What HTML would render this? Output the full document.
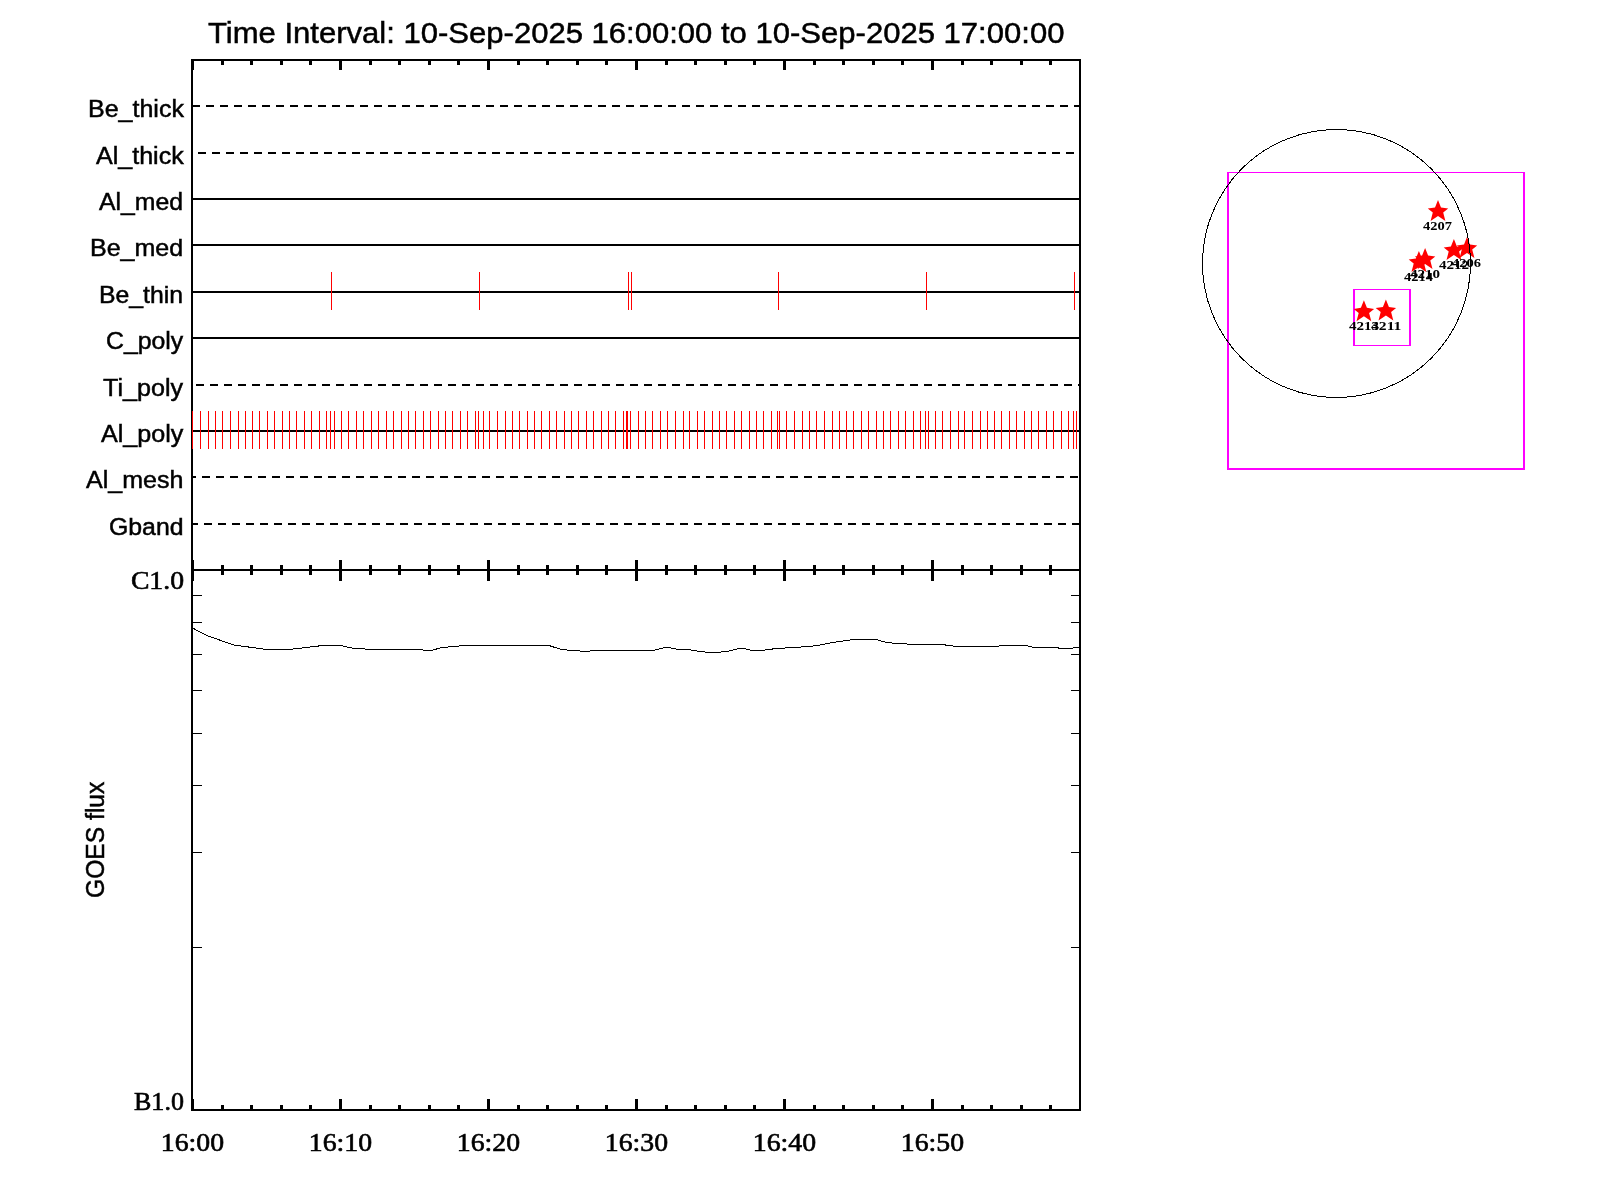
<!DOCTYPE html>
<html><head><meta charset="utf-8"><title>Time Interval: 10-Sep-2025 16:00:00 to 10-Sep-2025 17:00:00</title>
<style>html,body{margin:0;padding:0;background:#fff;width:1600px;height:1200px;overflow:hidden} svg{display:block;will-change:transform}</style>
</head><body>
<svg width="1600" height="1200" viewBox="0 0 1600 1200">
<rect x="0" y="0" width="1600" height="1200" fill="#fff"/>
<rect x="191" y="59" width="890" height="2" fill="#000"/>
<rect x="191" y="569" width="890" height="2" fill="#000"/>
<rect x="191" y="59" width="2" height="512" fill="#000"/>
<rect x="1079" y="59" width="2" height="512" fill="#000"/>
<rect x="191" y="569" width="890" height="2" fill="#000"/>
<rect x="191" y="1109" width="890" height="2" fill="#000"/>
<rect x="191" y="569" width="2" height="542" fill="#000"/>
<rect x="1079" y="569" width="2" height="542" fill="#000"/>
<rect x="191" y="59" width="3" height="11" fill="#000"/>
<rect x="191" y="560" width="3" height="21" fill="#000"/>
<rect x="191" y="1099" width="3" height="11" fill="#000"/>
<rect x="221" y="59" width="3" height="6" fill="#000"/>
<rect x="221" y="565" width="3" height="10" fill="#000"/>
<rect x="221" y="1105" width="3" height="6" fill="#000"/>
<rect x="250" y="59" width="3" height="6" fill="#000"/>
<rect x="250" y="565" width="3" height="10" fill="#000"/>
<rect x="250" y="1105" width="3" height="6" fill="#000"/>
<rect x="280" y="59" width="3" height="6" fill="#000"/>
<rect x="280" y="565" width="3" height="10" fill="#000"/>
<rect x="280" y="1105" width="3" height="6" fill="#000"/>
<rect x="309" y="59" width="3" height="6" fill="#000"/>
<rect x="309" y="565" width="3" height="10" fill="#000"/>
<rect x="309" y="1105" width="3" height="6" fill="#000"/>
<rect x="339" y="59" width="3" height="11" fill="#000"/>
<rect x="339" y="560" width="3" height="21" fill="#000"/>
<rect x="339" y="1099" width="3" height="11" fill="#000"/>
<rect x="369" y="59" width="3" height="6" fill="#000"/>
<rect x="369" y="565" width="3" height="10" fill="#000"/>
<rect x="369" y="1105" width="3" height="6" fill="#000"/>
<rect x="398" y="59" width="3" height="6" fill="#000"/>
<rect x="398" y="565" width="3" height="10" fill="#000"/>
<rect x="398" y="1105" width="3" height="6" fill="#000"/>
<rect x="428" y="59" width="3" height="6" fill="#000"/>
<rect x="428" y="565" width="3" height="10" fill="#000"/>
<rect x="428" y="1105" width="3" height="6" fill="#000"/>
<rect x="457" y="59" width="3" height="6" fill="#000"/>
<rect x="457" y="565" width="3" height="10" fill="#000"/>
<rect x="457" y="1105" width="3" height="6" fill="#000"/>
<rect x="487" y="59" width="3" height="11" fill="#000"/>
<rect x="487" y="560" width="3" height="21" fill="#000"/>
<rect x="487" y="1099" width="3" height="11" fill="#000"/>
<rect x="517" y="59" width="3" height="6" fill="#000"/>
<rect x="517" y="565" width="3" height="10" fill="#000"/>
<rect x="517" y="1105" width="3" height="6" fill="#000"/>
<rect x="546" y="59" width="3" height="6" fill="#000"/>
<rect x="546" y="565" width="3" height="10" fill="#000"/>
<rect x="546" y="1105" width="3" height="6" fill="#000"/>
<rect x="576" y="59" width="3" height="6" fill="#000"/>
<rect x="576" y="565" width="3" height="10" fill="#000"/>
<rect x="576" y="1105" width="3" height="6" fill="#000"/>
<rect x="605" y="59" width="3" height="6" fill="#000"/>
<rect x="605" y="565" width="3" height="10" fill="#000"/>
<rect x="605" y="1105" width="3" height="6" fill="#000"/>
<rect x="635" y="59" width="3" height="11" fill="#000"/>
<rect x="635" y="560" width="3" height="21" fill="#000"/>
<rect x="635" y="1099" width="3" height="11" fill="#000"/>
<rect x="665" y="59" width="3" height="6" fill="#000"/>
<rect x="665" y="565" width="3" height="10" fill="#000"/>
<rect x="665" y="1105" width="3" height="6" fill="#000"/>
<rect x="694" y="59" width="3" height="6" fill="#000"/>
<rect x="694" y="565" width="3" height="10" fill="#000"/>
<rect x="694" y="1105" width="3" height="6" fill="#000"/>
<rect x="724" y="59" width="3" height="6" fill="#000"/>
<rect x="724" y="565" width="3" height="10" fill="#000"/>
<rect x="724" y="1105" width="3" height="6" fill="#000"/>
<rect x="753" y="59" width="3" height="6" fill="#000"/>
<rect x="753" y="565" width="3" height="10" fill="#000"/>
<rect x="753" y="1105" width="3" height="6" fill="#000"/>
<rect x="783" y="59" width="3" height="11" fill="#000"/>
<rect x="783" y="560" width="3" height="21" fill="#000"/>
<rect x="783" y="1099" width="3" height="11" fill="#000"/>
<rect x="813" y="59" width="3" height="6" fill="#000"/>
<rect x="813" y="565" width="3" height="10" fill="#000"/>
<rect x="813" y="1105" width="3" height="6" fill="#000"/>
<rect x="842" y="59" width="3" height="6" fill="#000"/>
<rect x="842" y="565" width="3" height="10" fill="#000"/>
<rect x="842" y="1105" width="3" height="6" fill="#000"/>
<rect x="872" y="59" width="3" height="6" fill="#000"/>
<rect x="872" y="565" width="3" height="10" fill="#000"/>
<rect x="872" y="1105" width="3" height="6" fill="#000"/>
<rect x="901" y="59" width="3" height="6" fill="#000"/>
<rect x="901" y="565" width="3" height="10" fill="#000"/>
<rect x="901" y="1105" width="3" height="6" fill="#000"/>
<rect x="931" y="59" width="3" height="11" fill="#000"/>
<rect x="931" y="560" width="3" height="21" fill="#000"/>
<rect x="931" y="1099" width="3" height="11" fill="#000"/>
<rect x="961" y="59" width="3" height="6" fill="#000"/>
<rect x="961" y="565" width="3" height="10" fill="#000"/>
<rect x="961" y="1105" width="3" height="6" fill="#000"/>
<rect x="990" y="59" width="3" height="6" fill="#000"/>
<rect x="990" y="565" width="3" height="10" fill="#000"/>
<rect x="990" y="1105" width="3" height="6" fill="#000"/>
<rect x="1020" y="59" width="3" height="6" fill="#000"/>
<rect x="1020" y="565" width="3" height="10" fill="#000"/>
<rect x="1020" y="1105" width="3" height="6" fill="#000"/>
<rect x="1049" y="59" width="3" height="6" fill="#000"/>
<rect x="1049" y="565" width="3" height="10" fill="#000"/>
<rect x="1049" y="1105" width="3" height="6" fill="#000"/>
<rect x="193" y="947" width="9" height="1" fill="#000"/>
<rect x="1071" y="947" width="8" height="1" fill="#000"/>
<rect x="193" y="852" width="9" height="1" fill="#000"/>
<rect x="1071" y="852" width="8" height="1" fill="#000"/>
<rect x="193" y="785" width="9" height="1" fill="#000"/>
<rect x="1071" y="785" width="8" height="1" fill="#000"/>
<rect x="193" y="733" width="9" height="1" fill="#000"/>
<rect x="1071" y="733" width="8" height="1" fill="#000"/>
<rect x="193" y="690" width="9" height="1" fill="#000"/>
<rect x="1071" y="690" width="8" height="1" fill="#000"/>
<rect x="193" y="654" width="9" height="1" fill="#000"/>
<rect x="1071" y="654" width="8" height="1" fill="#000"/>
<rect x="193" y="622" width="9" height="1" fill="#000"/>
<rect x="1071" y="622" width="8" height="1" fill="#000"/>
<rect x="193" y="595" width="9" height="1" fill="#000"/>
<rect x="1071" y="595" width="8" height="1" fill="#000"/>
<rect x="193" y="105" width="7" height="2" fill="#000"/>
<rect x="206" y="105" width="8" height="2" fill="#000"/>
<rect x="220" y="105" width="8" height="2" fill="#000"/>
<rect x="234" y="105" width="8" height="2" fill="#000"/>
<rect x="248" y="105" width="8" height="2" fill="#000"/>
<rect x="262" y="105" width="8" height="2" fill="#000"/>
<rect x="276" y="105" width="8" height="2" fill="#000"/>
<rect x="290" y="105" width="8" height="2" fill="#000"/>
<rect x="304" y="105" width="8" height="2" fill="#000"/>
<rect x="318" y="105" width="8" height="2" fill="#000"/>
<rect x="332" y="105" width="8" height="2" fill="#000"/>
<rect x="346" y="105" width="8" height="2" fill="#000"/>
<rect x="360" y="105" width="8" height="2" fill="#000"/>
<rect x="374" y="105" width="8" height="2" fill="#000"/>
<rect x="388" y="105" width="8" height="2" fill="#000"/>
<rect x="402" y="105" width="8" height="2" fill="#000"/>
<rect x="416" y="105" width="8" height="2" fill="#000"/>
<rect x="430" y="105" width="8" height="2" fill="#000"/>
<rect x="444" y="105" width="8" height="2" fill="#000"/>
<rect x="458" y="105" width="8" height="2" fill="#000"/>
<rect x="472" y="105" width="8" height="2" fill="#000"/>
<rect x="486" y="105" width="8" height="2" fill="#000"/>
<rect x="500" y="105" width="8" height="2" fill="#000"/>
<rect x="514" y="105" width="8" height="2" fill="#000"/>
<rect x="528" y="105" width="8" height="2" fill="#000"/>
<rect x="542" y="105" width="8" height="2" fill="#000"/>
<rect x="556" y="105" width="8" height="2" fill="#000"/>
<rect x="570" y="105" width="8" height="2" fill="#000"/>
<rect x="584" y="105" width="8" height="2" fill="#000"/>
<rect x="598" y="105" width="8" height="2" fill="#000"/>
<rect x="612" y="105" width="8" height="2" fill="#000"/>
<rect x="626" y="105" width="8" height="2" fill="#000"/>
<rect x="640" y="105" width="8" height="2" fill="#000"/>
<rect x="654" y="105" width="8" height="2" fill="#000"/>
<rect x="668" y="105" width="8" height="2" fill="#000"/>
<rect x="682" y="105" width="8" height="2" fill="#000"/>
<rect x="696" y="105" width="8" height="2" fill="#000"/>
<rect x="710" y="105" width="8" height="2" fill="#000"/>
<rect x="724" y="105" width="8" height="2" fill="#000"/>
<rect x="738" y="105" width="8" height="2" fill="#000"/>
<rect x="752" y="105" width="8" height="2" fill="#000"/>
<rect x="766" y="105" width="8" height="2" fill="#000"/>
<rect x="780" y="105" width="8" height="2" fill="#000"/>
<rect x="794" y="105" width="8" height="2" fill="#000"/>
<rect x="808" y="105" width="8" height="2" fill="#000"/>
<rect x="822" y="105" width="8" height="2" fill="#000"/>
<rect x="836" y="105" width="8" height="2" fill="#000"/>
<rect x="850" y="105" width="8" height="2" fill="#000"/>
<rect x="864" y="105" width="8" height="2" fill="#000"/>
<rect x="878" y="105" width="8" height="2" fill="#000"/>
<rect x="892" y="105" width="8" height="2" fill="#000"/>
<rect x="906" y="105" width="8" height="2" fill="#000"/>
<rect x="920" y="105" width="8" height="2" fill="#000"/>
<rect x="934" y="105" width="8" height="2" fill="#000"/>
<rect x="948" y="105" width="8" height="2" fill="#000"/>
<rect x="962" y="105" width="8" height="2" fill="#000"/>
<rect x="976" y="105" width="8" height="2" fill="#000"/>
<rect x="990" y="105" width="8" height="2" fill="#000"/>
<rect x="1004" y="105" width="8" height="2" fill="#000"/>
<rect x="1018" y="105" width="8" height="2" fill="#000"/>
<rect x="1032" y="105" width="8" height="2" fill="#000"/>
<rect x="1046" y="105" width="8" height="2" fill="#000"/>
<rect x="1060" y="105" width="8" height="2" fill="#000"/>
<rect x="1074" y="105" width="5" height="2" fill="#000"/>
<rect x="198" y="152" width="8" height="2" fill="#000"/>
<rect x="212" y="152" width="8" height="2" fill="#000"/>
<rect x="226" y="152" width="8" height="2" fill="#000"/>
<rect x="240" y="152" width="8" height="2" fill="#000"/>
<rect x="254" y="152" width="8" height="2" fill="#000"/>
<rect x="268" y="152" width="8" height="2" fill="#000"/>
<rect x="282" y="152" width="8" height="2" fill="#000"/>
<rect x="296" y="152" width="8" height="2" fill="#000"/>
<rect x="310" y="152" width="8" height="2" fill="#000"/>
<rect x="324" y="152" width="8" height="2" fill="#000"/>
<rect x="338" y="152" width="8" height="2" fill="#000"/>
<rect x="352" y="152" width="8" height="2" fill="#000"/>
<rect x="366" y="152" width="8" height="2" fill="#000"/>
<rect x="380" y="152" width="8" height="2" fill="#000"/>
<rect x="394" y="152" width="8" height="2" fill="#000"/>
<rect x="408" y="152" width="8" height="2" fill="#000"/>
<rect x="422" y="152" width="8" height="2" fill="#000"/>
<rect x="436" y="152" width="8" height="2" fill="#000"/>
<rect x="450" y="152" width="8" height="2" fill="#000"/>
<rect x="464" y="152" width="8" height="2" fill="#000"/>
<rect x="478" y="152" width="8" height="2" fill="#000"/>
<rect x="492" y="152" width="8" height="2" fill="#000"/>
<rect x="506" y="152" width="8" height="2" fill="#000"/>
<rect x="520" y="152" width="8" height="2" fill="#000"/>
<rect x="534" y="152" width="8" height="2" fill="#000"/>
<rect x="548" y="152" width="8" height="2" fill="#000"/>
<rect x="562" y="152" width="8" height="2" fill="#000"/>
<rect x="576" y="152" width="8" height="2" fill="#000"/>
<rect x="590" y="152" width="8" height="2" fill="#000"/>
<rect x="604" y="152" width="8" height="2" fill="#000"/>
<rect x="618" y="152" width="8" height="2" fill="#000"/>
<rect x="632" y="152" width="8" height="2" fill="#000"/>
<rect x="646" y="152" width="8" height="2" fill="#000"/>
<rect x="660" y="152" width="8" height="2" fill="#000"/>
<rect x="674" y="152" width="8" height="2" fill="#000"/>
<rect x="688" y="152" width="8" height="2" fill="#000"/>
<rect x="702" y="152" width="8" height="2" fill="#000"/>
<rect x="716" y="152" width="8" height="2" fill="#000"/>
<rect x="730" y="152" width="8" height="2" fill="#000"/>
<rect x="744" y="152" width="8" height="2" fill="#000"/>
<rect x="758" y="152" width="8" height="2" fill="#000"/>
<rect x="772" y="152" width="8" height="2" fill="#000"/>
<rect x="786" y="152" width="8" height="2" fill="#000"/>
<rect x="800" y="152" width="8" height="2" fill="#000"/>
<rect x="814" y="152" width="8" height="2" fill="#000"/>
<rect x="828" y="152" width="8" height="2" fill="#000"/>
<rect x="842" y="152" width="8" height="2" fill="#000"/>
<rect x="856" y="152" width="8" height="2" fill="#000"/>
<rect x="870" y="152" width="8" height="2" fill="#000"/>
<rect x="884" y="152" width="8" height="2" fill="#000"/>
<rect x="898" y="152" width="8" height="2" fill="#000"/>
<rect x="912" y="152" width="8" height="2" fill="#000"/>
<rect x="926" y="152" width="8" height="2" fill="#000"/>
<rect x="940" y="152" width="8" height="2" fill="#000"/>
<rect x="954" y="152" width="8" height="2" fill="#000"/>
<rect x="968" y="152" width="8" height="2" fill="#000"/>
<rect x="982" y="152" width="8" height="2" fill="#000"/>
<rect x="996" y="152" width="8" height="2" fill="#000"/>
<rect x="1010" y="152" width="8" height="2" fill="#000"/>
<rect x="1024" y="152" width="8" height="2" fill="#000"/>
<rect x="1038" y="152" width="8" height="2" fill="#000"/>
<rect x="1052" y="152" width="8" height="2" fill="#000"/>
<rect x="1066" y="152" width="8" height="2" fill="#000"/>
<rect x="193" y="198" width="886" height="2" fill="#000"/>
<rect x="193" y="244" width="886" height="2" fill="#000"/>
<rect x="193" y="291" width="886" height="2" fill="#000"/>
<rect x="193" y="337" width="886" height="2" fill="#000"/>
<rect x="196" y="384" width="8" height="2" fill="#000"/>
<rect x="210" y="384" width="8" height="2" fill="#000"/>
<rect x="224" y="384" width="8" height="2" fill="#000"/>
<rect x="238" y="384" width="8" height="2" fill="#000"/>
<rect x="252" y="384" width="8" height="2" fill="#000"/>
<rect x="266" y="384" width="8" height="2" fill="#000"/>
<rect x="280" y="384" width="8" height="2" fill="#000"/>
<rect x="294" y="384" width="8" height="2" fill="#000"/>
<rect x="308" y="384" width="8" height="2" fill="#000"/>
<rect x="322" y="384" width="8" height="2" fill="#000"/>
<rect x="336" y="384" width="8" height="2" fill="#000"/>
<rect x="350" y="384" width="8" height="2" fill="#000"/>
<rect x="364" y="384" width="8" height="2" fill="#000"/>
<rect x="378" y="384" width="8" height="2" fill="#000"/>
<rect x="392" y="384" width="8" height="2" fill="#000"/>
<rect x="406" y="384" width="8" height="2" fill="#000"/>
<rect x="420" y="384" width="8" height="2" fill="#000"/>
<rect x="434" y="384" width="8" height="2" fill="#000"/>
<rect x="448" y="384" width="8" height="2" fill="#000"/>
<rect x="462" y="384" width="8" height="2" fill="#000"/>
<rect x="476" y="384" width="8" height="2" fill="#000"/>
<rect x="490" y="384" width="8" height="2" fill="#000"/>
<rect x="504" y="384" width="8" height="2" fill="#000"/>
<rect x="518" y="384" width="8" height="2" fill="#000"/>
<rect x="532" y="384" width="8" height="2" fill="#000"/>
<rect x="546" y="384" width="8" height="2" fill="#000"/>
<rect x="560" y="384" width="8" height="2" fill="#000"/>
<rect x="574" y="384" width="8" height="2" fill="#000"/>
<rect x="588" y="384" width="8" height="2" fill="#000"/>
<rect x="602" y="384" width="8" height="2" fill="#000"/>
<rect x="616" y="384" width="8" height="2" fill="#000"/>
<rect x="630" y="384" width="8" height="2" fill="#000"/>
<rect x="644" y="384" width="8" height="2" fill="#000"/>
<rect x="658" y="384" width="8" height="2" fill="#000"/>
<rect x="672" y="384" width="8" height="2" fill="#000"/>
<rect x="686" y="384" width="8" height="2" fill="#000"/>
<rect x="700" y="384" width="8" height="2" fill="#000"/>
<rect x="714" y="384" width="8" height="2" fill="#000"/>
<rect x="728" y="384" width="8" height="2" fill="#000"/>
<rect x="742" y="384" width="8" height="2" fill="#000"/>
<rect x="756" y="384" width="8" height="2" fill="#000"/>
<rect x="770" y="384" width="8" height="2" fill="#000"/>
<rect x="784" y="384" width="8" height="2" fill="#000"/>
<rect x="798" y="384" width="8" height="2" fill="#000"/>
<rect x="812" y="384" width="8" height="2" fill="#000"/>
<rect x="826" y="384" width="8" height="2" fill="#000"/>
<rect x="840" y="384" width="8" height="2" fill="#000"/>
<rect x="854" y="384" width="8" height="2" fill="#000"/>
<rect x="868" y="384" width="8" height="2" fill="#000"/>
<rect x="882" y="384" width="8" height="2" fill="#000"/>
<rect x="896" y="384" width="8" height="2" fill="#000"/>
<rect x="910" y="384" width="8" height="2" fill="#000"/>
<rect x="924" y="384" width="8" height="2" fill="#000"/>
<rect x="938" y="384" width="8" height="2" fill="#000"/>
<rect x="952" y="384" width="8" height="2" fill="#000"/>
<rect x="966" y="384" width="8" height="2" fill="#000"/>
<rect x="980" y="384" width="8" height="2" fill="#000"/>
<rect x="994" y="384" width="8" height="2" fill="#000"/>
<rect x="1008" y="384" width="8" height="2" fill="#000"/>
<rect x="1022" y="384" width="8" height="2" fill="#000"/>
<rect x="1036" y="384" width="8" height="2" fill="#000"/>
<rect x="1050" y="384" width="8" height="2" fill="#000"/>
<rect x="1064" y="384" width="8" height="2" fill="#000"/>
<rect x="1078" y="384" width="1" height="2" fill="#000"/>
<rect x="193" y="430" width="886" height="2" fill="#000"/>
<rect x="193" y="476" width="3" height="2" fill="#000"/>
<rect x="202" y="476" width="8" height="2" fill="#000"/>
<rect x="216" y="476" width="8" height="2" fill="#000"/>
<rect x="230" y="476" width="8" height="2" fill="#000"/>
<rect x="244" y="476" width="8" height="2" fill="#000"/>
<rect x="258" y="476" width="8" height="2" fill="#000"/>
<rect x="272" y="476" width="8" height="2" fill="#000"/>
<rect x="286" y="476" width="8" height="2" fill="#000"/>
<rect x="300" y="476" width="8" height="2" fill="#000"/>
<rect x="314" y="476" width="8" height="2" fill="#000"/>
<rect x="328" y="476" width="8" height="2" fill="#000"/>
<rect x="342" y="476" width="8" height="2" fill="#000"/>
<rect x="356" y="476" width="8" height="2" fill="#000"/>
<rect x="370" y="476" width="8" height="2" fill="#000"/>
<rect x="384" y="476" width="8" height="2" fill="#000"/>
<rect x="398" y="476" width="8" height="2" fill="#000"/>
<rect x="412" y="476" width="8" height="2" fill="#000"/>
<rect x="426" y="476" width="8" height="2" fill="#000"/>
<rect x="440" y="476" width="8" height="2" fill="#000"/>
<rect x="454" y="476" width="8" height="2" fill="#000"/>
<rect x="468" y="476" width="8" height="2" fill="#000"/>
<rect x="482" y="476" width="8" height="2" fill="#000"/>
<rect x="496" y="476" width="8" height="2" fill="#000"/>
<rect x="510" y="476" width="8" height="2" fill="#000"/>
<rect x="524" y="476" width="8" height="2" fill="#000"/>
<rect x="538" y="476" width="8" height="2" fill="#000"/>
<rect x="552" y="476" width="8" height="2" fill="#000"/>
<rect x="566" y="476" width="8" height="2" fill="#000"/>
<rect x="580" y="476" width="8" height="2" fill="#000"/>
<rect x="594" y="476" width="8" height="2" fill="#000"/>
<rect x="608" y="476" width="8" height="2" fill="#000"/>
<rect x="622" y="476" width="8" height="2" fill="#000"/>
<rect x="636" y="476" width="8" height="2" fill="#000"/>
<rect x="650" y="476" width="8" height="2" fill="#000"/>
<rect x="664" y="476" width="8" height="2" fill="#000"/>
<rect x="678" y="476" width="8" height="2" fill="#000"/>
<rect x="692" y="476" width="8" height="2" fill="#000"/>
<rect x="706" y="476" width="8" height="2" fill="#000"/>
<rect x="720" y="476" width="8" height="2" fill="#000"/>
<rect x="734" y="476" width="8" height="2" fill="#000"/>
<rect x="748" y="476" width="8" height="2" fill="#000"/>
<rect x="762" y="476" width="8" height="2" fill="#000"/>
<rect x="776" y="476" width="8" height="2" fill="#000"/>
<rect x="790" y="476" width="8" height="2" fill="#000"/>
<rect x="804" y="476" width="8" height="2" fill="#000"/>
<rect x="818" y="476" width="8" height="2" fill="#000"/>
<rect x="832" y="476" width="8" height="2" fill="#000"/>
<rect x="846" y="476" width="8" height="2" fill="#000"/>
<rect x="860" y="476" width="8" height="2" fill="#000"/>
<rect x="874" y="476" width="8" height="2" fill="#000"/>
<rect x="888" y="476" width="8" height="2" fill="#000"/>
<rect x="902" y="476" width="8" height="2" fill="#000"/>
<rect x="916" y="476" width="8" height="2" fill="#000"/>
<rect x="930" y="476" width="8" height="2" fill="#000"/>
<rect x="944" y="476" width="8" height="2" fill="#000"/>
<rect x="958" y="476" width="8" height="2" fill="#000"/>
<rect x="972" y="476" width="8" height="2" fill="#000"/>
<rect x="986" y="476" width="8" height="2" fill="#000"/>
<rect x="1000" y="476" width="8" height="2" fill="#000"/>
<rect x="1014" y="476" width="8" height="2" fill="#000"/>
<rect x="1028" y="476" width="8" height="2" fill="#000"/>
<rect x="1042" y="476" width="8" height="2" fill="#000"/>
<rect x="1056" y="476" width="8" height="2" fill="#000"/>
<rect x="1070" y="476" width="8" height="2" fill="#000"/>
<rect x="193" y="523" width="5" height="2" fill="#000"/>
<rect x="204" y="523" width="8" height="2" fill="#000"/>
<rect x="218" y="523" width="8" height="2" fill="#000"/>
<rect x="232" y="523" width="8" height="2" fill="#000"/>
<rect x="246" y="523" width="8" height="2" fill="#000"/>
<rect x="260" y="523" width="8" height="2" fill="#000"/>
<rect x="274" y="523" width="8" height="2" fill="#000"/>
<rect x="288" y="523" width="8" height="2" fill="#000"/>
<rect x="302" y="523" width="8" height="2" fill="#000"/>
<rect x="316" y="523" width="8" height="2" fill="#000"/>
<rect x="330" y="523" width="8" height="2" fill="#000"/>
<rect x="344" y="523" width="8" height="2" fill="#000"/>
<rect x="358" y="523" width="8" height="2" fill="#000"/>
<rect x="372" y="523" width="8" height="2" fill="#000"/>
<rect x="386" y="523" width="8" height="2" fill="#000"/>
<rect x="400" y="523" width="8" height="2" fill="#000"/>
<rect x="414" y="523" width="8" height="2" fill="#000"/>
<rect x="428" y="523" width="8" height="2" fill="#000"/>
<rect x="442" y="523" width="8" height="2" fill="#000"/>
<rect x="456" y="523" width="8" height="2" fill="#000"/>
<rect x="470" y="523" width="8" height="2" fill="#000"/>
<rect x="484" y="523" width="8" height="2" fill="#000"/>
<rect x="498" y="523" width="8" height="2" fill="#000"/>
<rect x="512" y="523" width="8" height="2" fill="#000"/>
<rect x="526" y="523" width="8" height="2" fill="#000"/>
<rect x="540" y="523" width="8" height="2" fill="#000"/>
<rect x="554" y="523" width="8" height="2" fill="#000"/>
<rect x="568" y="523" width="8" height="2" fill="#000"/>
<rect x="582" y="523" width="8" height="2" fill="#000"/>
<rect x="596" y="523" width="8" height="2" fill="#000"/>
<rect x="610" y="523" width="8" height="2" fill="#000"/>
<rect x="624" y="523" width="8" height="2" fill="#000"/>
<rect x="638" y="523" width="8" height="2" fill="#000"/>
<rect x="652" y="523" width="8" height="2" fill="#000"/>
<rect x="666" y="523" width="8" height="2" fill="#000"/>
<rect x="680" y="523" width="8" height="2" fill="#000"/>
<rect x="694" y="523" width="8" height="2" fill="#000"/>
<rect x="708" y="523" width="8" height="2" fill="#000"/>
<rect x="722" y="523" width="8" height="2" fill="#000"/>
<rect x="736" y="523" width="8" height="2" fill="#000"/>
<rect x="750" y="523" width="8" height="2" fill="#000"/>
<rect x="764" y="523" width="8" height="2" fill="#000"/>
<rect x="778" y="523" width="8" height="2" fill="#000"/>
<rect x="792" y="523" width="8" height="2" fill="#000"/>
<rect x="806" y="523" width="8" height="2" fill="#000"/>
<rect x="820" y="523" width="8" height="2" fill="#000"/>
<rect x="834" y="523" width="8" height="2" fill="#000"/>
<rect x="848" y="523" width="8" height="2" fill="#000"/>
<rect x="862" y="523" width="8" height="2" fill="#000"/>
<rect x="876" y="523" width="8" height="2" fill="#000"/>
<rect x="890" y="523" width="8" height="2" fill="#000"/>
<rect x="904" y="523" width="8" height="2" fill="#000"/>
<rect x="918" y="523" width="8" height="2" fill="#000"/>
<rect x="932" y="523" width="8" height="2" fill="#000"/>
<rect x="946" y="523" width="8" height="2" fill="#000"/>
<rect x="960" y="523" width="8" height="2" fill="#000"/>
<rect x="974" y="523" width="8" height="2" fill="#000"/>
<rect x="988" y="523" width="8" height="2" fill="#000"/>
<rect x="1002" y="523" width="8" height="2" fill="#000"/>
<rect x="1016" y="523" width="8" height="2" fill="#000"/>
<rect x="1030" y="523" width="8" height="2" fill="#000"/>
<rect x="1044" y="523" width="8" height="2" fill="#000"/>
<rect x="1058" y="523" width="8" height="2" fill="#000"/>
<rect x="1072" y="523" width="7" height="2" fill="#000"/>
<rect x="331" y="272" width="1" height="38" fill="#ff0000"/>
<rect x="479" y="272" width="1" height="38" fill="#ff0000"/>
<rect x="628" y="272" width="1" height="38" fill="#ff0000"/>
<rect x="631" y="272" width="1" height="38" fill="#ff0000"/>
<rect x="778" y="272" width="1" height="38" fill="#ff0000"/>
<rect x="926" y="272" width="1" height="38" fill="#ff0000"/>
<rect x="1074" y="272" width="1" height="38" fill="#ff0000"/>
<rect x="192" y="411" width="1" height="38" fill="#ff0000"/>
<rect x="200" y="411" width="1" height="38" fill="#ff0000"/>
<rect x="208" y="411" width="1" height="38" fill="#ff0000"/>
<rect x="215" y="411" width="1" height="38" fill="#ff0000"/>
<rect x="222" y="411" width="1" height="38" fill="#ff0000"/>
<rect x="230" y="411" width="1" height="38" fill="#ff0000"/>
<rect x="238" y="411" width="1" height="38" fill="#ff0000"/>
<rect x="245" y="411" width="1" height="38" fill="#ff0000"/>
<rect x="252" y="411" width="1" height="38" fill="#ff0000"/>
<rect x="259" y="411" width="1" height="38" fill="#ff0000"/>
<rect x="267" y="411" width="1" height="38" fill="#ff0000"/>
<rect x="274" y="411" width="1" height="38" fill="#ff0000"/>
<rect x="282" y="411" width="1" height="38" fill="#ff0000"/>
<rect x="289" y="411" width="1" height="38" fill="#ff0000"/>
<rect x="296" y="411" width="1" height="38" fill="#ff0000"/>
<rect x="304" y="411" width="1" height="38" fill="#ff0000"/>
<rect x="311" y="411" width="1" height="38" fill="#ff0000"/>
<rect x="319" y="411" width="1" height="38" fill="#ff0000"/>
<rect x="326" y="411" width="1" height="38" fill="#ff0000"/>
<rect x="330" y="411" width="1" height="38" fill="#ff0000"/>
<rect x="334" y="411" width="1" height="38" fill="#ff0000"/>
<rect x="341" y="411" width="1" height="38" fill="#ff0000"/>
<rect x="348" y="411" width="1" height="38" fill="#ff0000"/>
<rect x="356" y="411" width="1" height="38" fill="#ff0000"/>
<rect x="363" y="411" width="1" height="38" fill="#ff0000"/>
<rect x="371" y="411" width="1" height="38" fill="#ff0000"/>
<rect x="378" y="411" width="1" height="38" fill="#ff0000"/>
<rect x="386" y="411" width="1" height="38" fill="#ff0000"/>
<rect x="393" y="411" width="1" height="38" fill="#ff0000"/>
<rect x="401" y="411" width="1" height="38" fill="#ff0000"/>
<rect x="408" y="411" width="1" height="38" fill="#ff0000"/>
<rect x="415" y="411" width="1" height="38" fill="#ff0000"/>
<rect x="423" y="411" width="1" height="38" fill="#ff0000"/>
<rect x="430" y="411" width="1" height="38" fill="#ff0000"/>
<rect x="438" y="411" width="1" height="38" fill="#ff0000"/>
<rect x="445" y="411" width="1" height="38" fill="#ff0000"/>
<rect x="452" y="411" width="1" height="38" fill="#ff0000"/>
<rect x="460" y="411" width="1" height="38" fill="#ff0000"/>
<rect x="467" y="411" width="1" height="38" fill="#ff0000"/>
<rect x="475" y="411" width="1" height="38" fill="#ff0000"/>
<rect x="478" y="411" width="1" height="38" fill="#ff0000"/>
<rect x="483" y="411" width="1" height="38" fill="#ff0000"/>
<rect x="489" y="411" width="1" height="38" fill="#ff0000"/>
<rect x="497" y="411" width="1" height="38" fill="#ff0000"/>
<rect x="505" y="411" width="1" height="38" fill="#ff0000"/>
<rect x="512" y="411" width="1" height="38" fill="#ff0000"/>
<rect x="519" y="411" width="1" height="38" fill="#ff0000"/>
<rect x="527" y="411" width="1" height="38" fill="#ff0000"/>
<rect x="534" y="411" width="1" height="38" fill="#ff0000"/>
<rect x="541" y="411" width="1" height="38" fill="#ff0000"/>
<rect x="549" y="411" width="1" height="38" fill="#ff0000"/>
<rect x="556" y="411" width="1" height="38" fill="#ff0000"/>
<rect x="564" y="411" width="1" height="38" fill="#ff0000"/>
<rect x="571" y="411" width="1" height="38" fill="#ff0000"/>
<rect x="578" y="411" width="1" height="38" fill="#ff0000"/>
<rect x="586" y="411" width="1" height="38" fill="#ff0000"/>
<rect x="593" y="411" width="1" height="38" fill="#ff0000"/>
<rect x="601" y="411" width="1" height="38" fill="#ff0000"/>
<rect x="608" y="411" width="1" height="38" fill="#ff0000"/>
<rect x="615" y="411" width="1" height="38" fill="#ff0000"/>
<rect x="623" y="411" width="1" height="38" fill="#ff0000"/>
<rect x="626" y="411" width="1" height="38" fill="#ff0000"/>
<rect x="627" y="411" width="1" height="38" fill="#ff0000"/>
<rect x="630" y="411" width="1" height="38" fill="#ff0000"/>
<rect x="638" y="411" width="1" height="38" fill="#ff0000"/>
<rect x="645" y="411" width="1" height="38" fill="#ff0000"/>
<rect x="652" y="411" width="1" height="38" fill="#ff0000"/>
<rect x="660" y="411" width="1" height="38" fill="#ff0000"/>
<rect x="667" y="411" width="1" height="38" fill="#ff0000"/>
<rect x="675" y="411" width="1" height="38" fill="#ff0000"/>
<rect x="683" y="411" width="1" height="38" fill="#ff0000"/>
<rect x="689" y="411" width="1" height="38" fill="#ff0000"/>
<rect x="697" y="411" width="1" height="38" fill="#ff0000"/>
<rect x="704" y="411" width="1" height="38" fill="#ff0000"/>
<rect x="712" y="411" width="1" height="38" fill="#ff0000"/>
<rect x="719" y="411" width="1" height="38" fill="#ff0000"/>
<rect x="726" y="411" width="1" height="38" fill="#ff0000"/>
<rect x="734" y="411" width="1" height="38" fill="#ff0000"/>
<rect x="741" y="411" width="1" height="38" fill="#ff0000"/>
<rect x="749" y="411" width="1" height="38" fill="#ff0000"/>
<rect x="756" y="411" width="1" height="38" fill="#ff0000"/>
<rect x="763" y="411" width="1" height="38" fill="#ff0000"/>
<rect x="771" y="411" width="1" height="38" fill="#ff0000"/>
<rect x="777" y="411" width="1" height="38" fill="#ff0000"/>
<rect x="779" y="411" width="1" height="38" fill="#ff0000"/>
<rect x="786" y="411" width="1" height="38" fill="#ff0000"/>
<rect x="794" y="411" width="1" height="38" fill="#ff0000"/>
<rect x="802" y="411" width="1" height="38" fill="#ff0000"/>
<rect x="809" y="411" width="1" height="38" fill="#ff0000"/>
<rect x="816" y="411" width="1" height="38" fill="#ff0000"/>
<rect x="824" y="411" width="1" height="38" fill="#ff0000"/>
<rect x="832" y="411" width="1" height="38" fill="#ff0000"/>
<rect x="839" y="411" width="1" height="38" fill="#ff0000"/>
<rect x="846" y="411" width="1" height="38" fill="#ff0000"/>
<rect x="853" y="411" width="1" height="38" fill="#ff0000"/>
<rect x="861" y="411" width="1" height="38" fill="#ff0000"/>
<rect x="868" y="411" width="1" height="38" fill="#ff0000"/>
<rect x="876" y="411" width="1" height="38" fill="#ff0000"/>
<rect x="883" y="411" width="1" height="38" fill="#ff0000"/>
<rect x="890" y="411" width="1" height="38" fill="#ff0000"/>
<rect x="898" y="411" width="1" height="38" fill="#ff0000"/>
<rect x="905" y="411" width="1" height="38" fill="#ff0000"/>
<rect x="913" y="411" width="1" height="38" fill="#ff0000"/>
<rect x="920" y="411" width="1" height="38" fill="#ff0000"/>
<rect x="925" y="411" width="1" height="38" fill="#ff0000"/>
<rect x="928" y="411" width="1" height="38" fill="#ff0000"/>
<rect x="935" y="411" width="1" height="38" fill="#ff0000"/>
<rect x="942" y="411" width="1" height="38" fill="#ff0000"/>
<rect x="950" y="411" width="1" height="38" fill="#ff0000"/>
<rect x="958" y="411" width="1" height="38" fill="#ff0000"/>
<rect x="964" y="411" width="1" height="38" fill="#ff0000"/>
<rect x="972" y="411" width="1" height="38" fill="#ff0000"/>
<rect x="980" y="411" width="1" height="38" fill="#ff0000"/>
<rect x="987" y="411" width="1" height="38" fill="#ff0000"/>
<rect x="994" y="411" width="1" height="38" fill="#ff0000"/>
<rect x="1001" y="411" width="1" height="38" fill="#ff0000"/>
<rect x="1009" y="411" width="1" height="38" fill="#ff0000"/>
<rect x="1016" y="411" width="1" height="38" fill="#ff0000"/>
<rect x="1024" y="411" width="1" height="38" fill="#ff0000"/>
<rect x="1031" y="411" width="1" height="38" fill="#ff0000"/>
<rect x="1038" y="411" width="1" height="38" fill="#ff0000"/>
<rect x="1046" y="411" width="1" height="38" fill="#ff0000"/>
<rect x="1053" y="411" width="1" height="38" fill="#ff0000"/>
<rect x="1061" y="411" width="1" height="38" fill="#ff0000"/>
<rect x="1068" y="411" width="1" height="38" fill="#ff0000"/>
<rect x="1073" y="411" width="1" height="38" fill="#ff0000"/>
<rect x="1076" y="411" width="1" height="38" fill="#ff0000"/>
<path d="M192.9,628.2 L205.8,635.1 L233.1,644.9 L240.3,645.9 L264.7,649.2 L274.8,649.9 L289.2,649.5 L307.9,647.3 L319.4,645.9 L342.4,645.9 L352.4,648.1 L376.9,649.9 L420.0,649.9 L431.6,650.4 L441.6,647.6 L451.7,646.6 L466.1,645.4 L548.7,645.4 L560.9,649.4 L570.3,650.4 L585.4,651.3 L599.0,650.4 L640.0,650.4 L653.7,650.4 L664.5,647.6 L669.5,647.6 L677.4,649.4 L687.5,649.4 L699.0,651.3 L707.6,652.3 L717.7,652.3 L727.7,651.3 L739.2,648.4 L743.6,648.4 L751.5,650.4 L761.5,650.4 L777.3,648.4 L792.4,647.6 L806.8,646.6 L816.9,645.6 L832.7,642.5 L847.0,640.4 L855.1,639.4 L875.7,639.4 L886.0,642.3 L895.5,643.4 L910.2,644.2 L939.6,644.2 L955.0,646.3 L999.0,646.3 L999.8,645.3 L1024.8,645.3 L1032.8,647.3 L1057.8,647.3 L1058.5,648.2 L1072.5,648.2 L1074.0,647.3 L1079.0,647.3" fill="none" stroke="#000" stroke-width="1" shape-rendering="crispEdges"/>
<rect x="1227" y="172" width="298" height="1" fill="#ff00ff"/>
<rect x="1227" y="468" width="298" height="2" fill="#ff00ff"/>
<rect x="1227" y="172" width="2" height="298" fill="#ff00ff"/>
<rect x="1523" y="172" width="2" height="298" fill="#ff00ff"/>
<rect x="1353" y="289" width="58" height="1" fill="#ff00ff"/>
<rect x="1353" y="345" width="58" height="1" fill="#ff00ff"/>
<rect x="1353" y="289" width="2" height="57" fill="#ff00ff"/>
<rect x="1409" y="289" width="2" height="57" fill="#ff00ff"/>
<polygon points="1438.00,200.00 1441.00,207.50 1448.20,208.60 1443.20,212.60 1445.40,221.00 1438.00,216.00 1430.60,221.00 1432.80,212.60 1427.80,208.60 1435.00,207.50" fill="#ff0000"/>
<polygon points="1418.90,250.90 1421.90,258.40 1429.10,259.50 1424.10,263.50 1426.30,271.90 1418.90,266.90 1411.50,271.90 1413.70,263.50 1408.70,259.50 1415.90,258.40" fill="#ff0000"/>
<polygon points="1425.10,247.90 1428.10,255.40 1435.30,256.50 1430.30,260.50 1432.50,268.90 1425.10,263.90 1417.70,268.90 1419.90,260.50 1414.90,256.50 1422.10,255.40" fill="#ff0000"/>
<polygon points="1453.90,239.00 1456.90,246.50 1464.10,247.60 1459.10,251.60 1461.30,260.00 1453.90,255.00 1446.50,260.00 1448.70,251.60 1443.70,247.60 1450.90,246.50" fill="#ff0000"/>
<polygon points="1467.00,236.90 1470.00,244.40 1477.20,245.50 1472.20,249.50 1474.40,257.90 1467.00,252.90 1459.60,257.90 1461.80,249.50 1456.80,245.50 1464.00,244.40" fill="#ff0000"/>
<polygon points="1363.90,300.30 1366.90,307.80 1374.10,308.90 1369.10,312.90 1371.30,321.30 1363.90,316.30 1356.50,321.30 1358.70,312.90 1353.70,308.90 1360.90,307.80" fill="#ff0000"/>
<polygon points="1385.90,299.50 1388.90,307.00 1396.10,308.10 1391.10,312.10 1393.30,320.50 1385.90,315.50 1378.50,320.50 1380.70,312.10 1375.70,308.10 1382.90,307.00" fill="#ff0000"/>
<text transform="translate(208.00,42.8) scale(1.0351,1)" x="0" y="0" font-family="&quot;Liberation Sans&quot;, sans-serif" font-size="30" font-weight="normal" fill="#000" stroke="#000" stroke-width="0.5">Time Interval: 10-Sep-2025 16:00:00 to 10-Sep-2025 17:00:00</text>
<text transform="translate(87.96,117) scale(1.0217,1)" x="0" y="0" font-family="&quot;Liberation Sans&quot;, sans-serif" font-size="24.5" font-weight="normal" fill="#000" stroke="#000" stroke-width="0.5">Be_thick</text>
<text transform="translate(96.00,164) scale(1.0233,1)" x="0" y="0" font-family="&quot;Liberation Sans&quot;, sans-serif" font-size="24.5" font-weight="normal" fill="#000" stroke="#000" stroke-width="0.5">Al_thick</text>
<text transform="translate(99.00,210) scale(1.0122,1)" x="0" y="0" font-family="&quot;Liberation Sans&quot;, sans-serif" font-size="24.5" font-weight="normal" fill="#000" stroke="#000" stroke-width="0.5">Al_med</text>
<text transform="translate(89.95,256) scale(1.0227,1)" x="0" y="0" font-family="&quot;Liberation Sans&quot;, sans-serif" font-size="24.5" font-weight="normal" fill="#000" stroke="#000" stroke-width="0.5">Be_med</text>
<text transform="translate(98.97,303) scale(1.0125,1)" x="0" y="0" font-family="&quot;Liberation Sans&quot;, sans-serif" font-size="24.5" font-weight="normal" fill="#000" stroke="#000" stroke-width="0.5">Be_thin</text>
<text transform="translate(105.99,349) scale(1.0133,1)" x="0" y="0" font-family="&quot;Liberation Sans&quot;, sans-serif" font-size="24.5" font-weight="normal" fill="#000" stroke="#000" stroke-width="0.5">C_poly</text>
<text transform="translate(103.00,396) scale(1.0256,1)" x="0" y="0" font-family="&quot;Liberation Sans&quot;, sans-serif" font-size="24.5" font-weight="normal" fill="#000" stroke="#000" stroke-width="0.5">Ti_poly</text>
<text transform="translate(101.00,442) scale(1.0250,1)" x="0" y="0" font-family="&quot;Liberation Sans&quot;, sans-serif" font-size="24.5" font-weight="normal" fill="#000" stroke="#000" stroke-width="0.5">Al_poly</text>
<text transform="translate(86.00,488) scale(1.0213,1)" x="0" y="0" font-family="&quot;Liberation Sans&quot;, sans-serif" font-size="24.5" font-weight="normal" fill="#000" stroke="#000" stroke-width="0.5">Al_mesh</text>
<text transform="translate(108.99,535) scale(1.0141,1)" x="0" y="0" font-family="&quot;Liberation Sans&quot;, sans-serif" font-size="24.5" font-weight="normal" fill="#000" stroke="#000" stroke-width="0.5">Gband</text>
<text transform="translate(130.89,589) scale(1.1087,1)" x="0" y="0" font-family="&quot;Liberation Serif&quot;, serif" font-size="25" font-weight="normal" fill="#000" stroke="#000" stroke-width="0.6">C1.0</text>
<text transform="translate(134.00,1110) scale(1.0426,1)" x="0" y="0" font-family="&quot;Liberation Serif&quot;, serif" font-size="25" font-weight="normal" fill="#000" stroke="#000" stroke-width="0.6">B1.0</text>
<text transform="translate(160.78,1151) scale(1.1111,1)" x="0" y="0" font-family="&quot;Liberation Serif&quot;, serif" font-size="25" font-weight="normal" fill="#000" stroke="#000" stroke-width="0.6">16:00</text>
<text transform="translate(308.78,1151) scale(1.1111,1)" x="0" y="0" font-family="&quot;Liberation Serif&quot;, serif" font-size="25" font-weight="normal" fill="#000" stroke="#000" stroke-width="0.6">16:10</text>
<text transform="translate(456.78,1151) scale(1.1111,1)" x="0" y="0" font-family="&quot;Liberation Serif&quot;, serif" font-size="25" font-weight="normal" fill="#000" stroke="#000" stroke-width="0.6">16:20</text>
<text transform="translate(604.78,1151) scale(1.1111,1)" x="0" y="0" font-family="&quot;Liberation Serif&quot;, serif" font-size="25" font-weight="normal" fill="#000" stroke="#000" stroke-width="0.6">16:30</text>
<text transform="translate(752.78,1151) scale(1.1111,1)" x="0" y="0" font-family="&quot;Liberation Serif&quot;, serif" font-size="25" font-weight="normal" fill="#000" stroke="#000" stroke-width="0.6">16:40</text>
<text transform="translate(900.78,1151) scale(1.1111,1)" x="0" y="0" font-family="&quot;Liberation Serif&quot;, serif" font-size="25" font-weight="normal" fill="#000" stroke="#000" stroke-width="0.6">16:50</text>
<text transform="translate(1423.00,230) scale(1.0741,1)" x="0" y="0" font-family="&quot;Liberation Serif&quot;, serif" font-size="13.5" font-weight="bold" fill="#000">4207</text>
<text transform="translate(1404.00,281) scale(1.0741,1)" x="0" y="0" font-family="&quot;Liberation Serif&quot;, serif" font-size="13.5" font-weight="bold" fill="#000">4214</text>
<text transform="translate(1410.00,278) scale(1.1154,1)" x="0" y="0" font-family="&quot;Liberation Serif&quot;, serif" font-size="13.5" font-weight="bold" fill="#000">4210</text>
<text transform="translate(1439.00,269) scale(1.1154,1)" x="0" y="0" font-family="&quot;Liberation Serif&quot;, serif" font-size="13.5" font-weight="bold" fill="#000">4212</text>
<text transform="translate(1452.00,267) scale(1.0741,1)" x="0" y="0" font-family="&quot;Liberation Serif&quot;, serif" font-size="13.5" font-weight="bold" fill="#000">4206</text>
<text transform="translate(1349.00,330) scale(1.1154,1)" x="0" y="0" font-family="&quot;Liberation Serif&quot;, serif" font-size="13.5" font-weight="bold" fill="#000">4213</text>
<text transform="translate(1371.00,330) scale(1.1600,1)" x="0" y="0" font-family="&quot;Liberation Serif&quot;, serif" font-size="13.5" font-weight="bold" fill="#000">4211</text>
<text transform="translate(104,897.97) rotate(-90) scale(0.9664,1)" x="0" y="0" font-family="&quot;Liberation Sans&quot;, sans-serif" font-size="25.5" stroke="#000" stroke-width="0.5">GOES flux</text>
<circle cx="1336.5" cy="263.5" r="134" fill="none" stroke="#000" stroke-width="1" shape-rendering="crispEdges"/>
</svg>
</body></html>
